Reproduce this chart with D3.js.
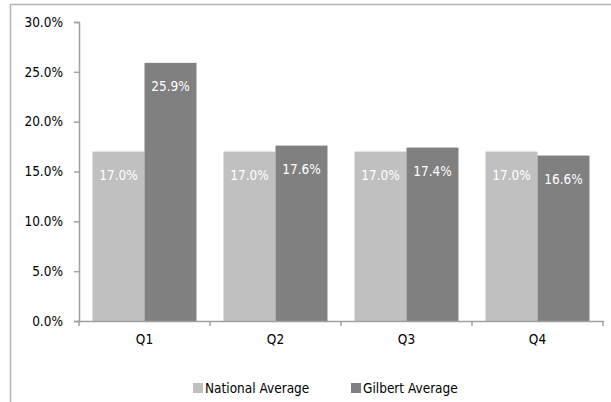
<!DOCTYPE html>
<html>
<head>
<meta charset="utf-8">
<script src="https://cdn.jsdelivr.net/npm/d3@7"></script>
<style>
    body { margin: 0; background: #fff; }
    svg text { font-family: "DejaVu Sans Condensed", "Liberation Sans", sans-serif; }
</style>
</head>
<body>
<div id="chart"></div>
<script>
// chart data
const quarters = ["Q1", "Q2", "Q3", "Q4"];
const seriesNames = ["National Average", "Gilbert Average"];
const nationalValues = [17.0, 17.0, 17.0, 17.0];
const gilbertValues = [25.9, 17.6, 17.4, 16.6];
const yTicks = [0, 5, 10, 15, 20, 25, 30];
const colors = ["#c0c0c0", "#808080"];

const width = 611, height = 402;
const margin = {top: 22, right: 8, bottom: 81, left: 79};
const fontFamily = "'DejaVu Sans Condensed', 'Liberation Sans', sans-serif";

let svg = d3.select("#chart").append("svg")
    .attr("width", width)
    .attr("height", height);

// outer frame (only top and left edges show)
svg.append("path")
    .attr("d", `M10.5,${height} V4.5 H${width}`)
    .attr("fill", "none")
    .attr("stroke", "#b4b4b4")
    .attr("stroke-width", 1.5);

let x0 = d3.scaleBand()
    .domain(quarters)
    .range([margin.left, width - margin.right]);

let x1 = d3.scaleBand()
    .domain(seriesNames)
    .range([0, x0.bandwidth()])
    .paddingOuter(0.26);

let y = d3.scaleLinear()
    .domain([0, 30])
    .range([height - margin.bottom, margin.top]);

let rows = quarters.map((q, i) => ({
    quarter: q,
    values: [
        {name: seriesNames[0], value: nationalValues[i], color: colors[0]},
        {name: seriesNames[1], value: gilbertValues[i], color: colors[1]}
    ]
}));

// bars
let groups = svg.selectAll(".group")
    .data(rows)
    .enter().append("g")
    .attr("class", "group")
    .attr("transform", d => `translate(${x0(d.quarter)},0)`);

groups.selectAll("rect")
    .data(d => d.values)
    .enter().append("rect")
    .attr("x", d => x1(d.name))
    .attr("y", d => y(d.value))
    .attr("width", x1.bandwidth())
    .attr("height", d => y(0) - y(d.value))
    .attr("fill", d => d.color);

groups.selectAll(".label")
    .data(d => d.values)
    .enter().append("text")
    .attr("class", "label")
    .attr("x", d => x1(d.name) + x1.bandwidth() / 2)
    .attr("y", d => y(d.value) + 28)
    .attr("text-anchor", "middle")
    .attr("fill", "#fff")
    .style("font-size", "13.5px")
    .text(d => d.value.toFixed(1) + "%");

// axes
let yAxis = svg.append("g")
    .attr("transform", `translate(${margin.left},0)`)
    .call(d3.axisLeft(y).tickValues(yTicks).tickSize(5).tickFormat(d => d.toFixed(1) + "%"));

let xAxis = svg.append("g")
    .attr("transform", `translate(0,${y(0)})`)
    .call(d3.axisBottom(x0).tickSize(0).tickPadding(13));

// category boundary ticks on x axis
svg.selectAll(".xtick")
    .data(quarters.map(q => x0(q)).concat([x0.range()[1]]))
    .enter().append("line")
    .attr("x1", d => d)
    .attr("x2", d => d)
    .attr("y1", y(0))
    .attr("y2", y(0) + 5)
    .attr("stroke", "#a0a0a0")
    .attr("stroke-width", 1.5);

[yAxis, xAxis].forEach(a => {
    a.select(".domain").attr("stroke", "#a0a0a0").attr("stroke-width", 1.5);
    a.selectAll(".tick line").attr("stroke", "#a0a0a0").attr("stroke-width", 1.5);
    a.selectAll(".tick text")
        .attr("fill", "#000")
        .style("font-size", "13.5px")
        .style("font-family", fontFamily);
});
yAxis.selectAll(".tick text").attr("x", -16);

// legend
let legendX = [193, 351];
let legend = svg.selectAll(".legend")
    .data(seriesNames)
    .enter().append("g")
    .attr("class", "legend")
    .attr("transform", (d, i) => `translate(${legendX[i]},383)`);

legend.append("rect")
    .attr("width", 10)
    .attr("height", 10)
    .attr("fill", (d, i) => colors[i]);

legend.append("text")
    .attr("x", 12)
    .attr("y", 9.5)
    .style("font-size", "13.5px")
    .attr("fill", "#000")
    .text(d => d);
</script>
</body>
</html>
